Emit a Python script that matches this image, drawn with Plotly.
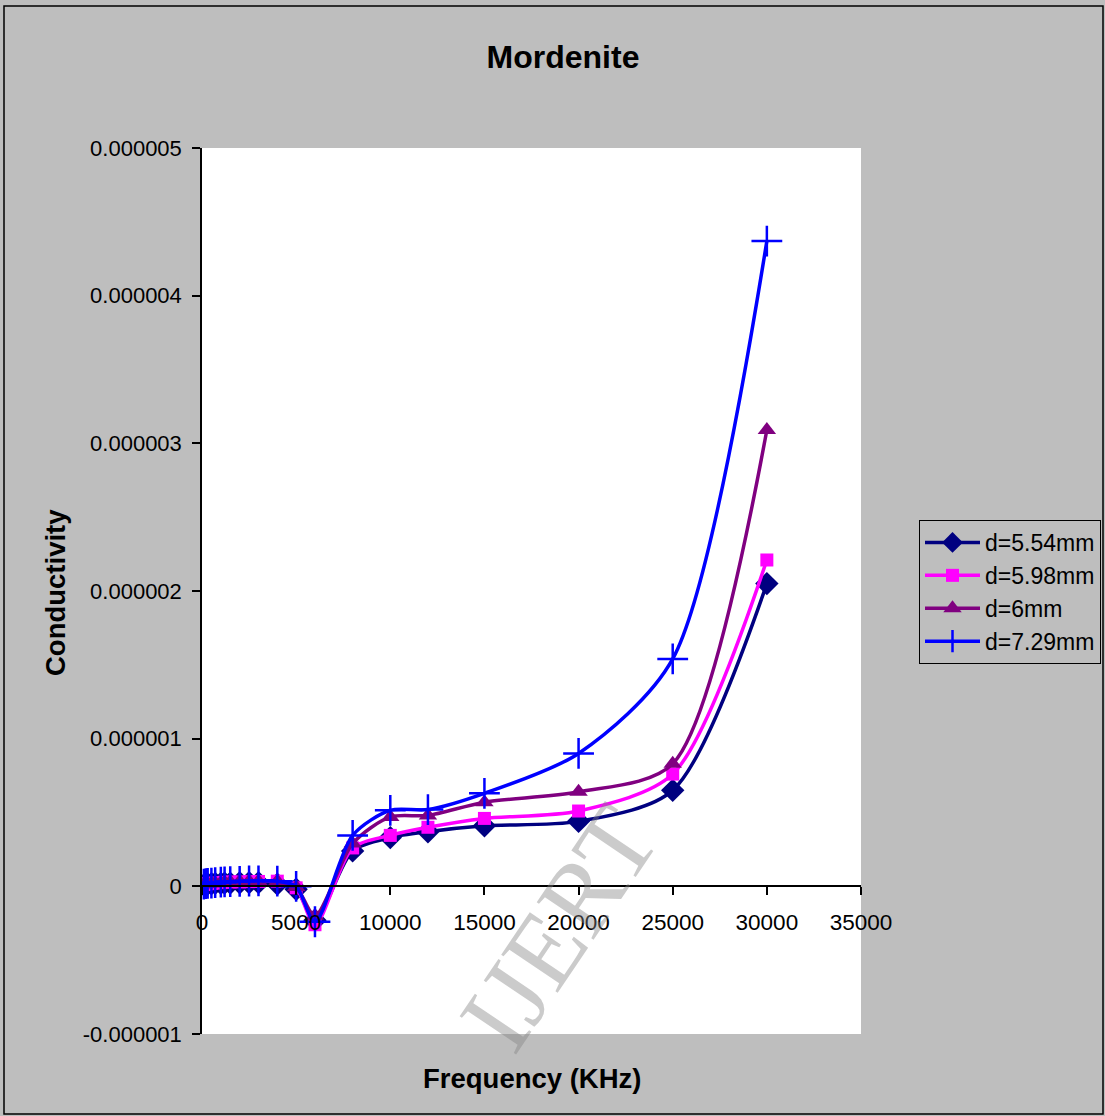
import plotly.graph_objects as go

# ---------------- data ----------------
frequency = [100, 200, 300, 500, 700, 1000, 1200, 1500, 2000, 2500, 3000, 4000, 5000,
             6000, 8000, 10000, 12000, 15000, 20000, 25000, 30000]

d_554 = [0.01e-6, 0.012e-6, 0.015e-6, 0.018e-6, 0.02e-6, 0.02e-6, 0.022e-6, 0.022e-6, 0.024e-6,
         0.025e-6, 0.025e-6, 0.015e-6, -0.02e-6, -0.23e-6, 0.24e-6, 0.33e-6, 0.37e-6, 0.41e-6,
         0.44e-6, 0.65e-6, 2.05e-6]
d_598 = [0.012e-6, 0.015e-6, 0.018e-6, 0.02e-6, 0.022e-6, 0.025e-6, 0.027e-6, 0.03e-6, 0.03e-6,
         0.032e-6, 0.033e-6, 0.035e-6, -0.01e-6, -0.26e-6, 0.26e-6, 0.345e-6, 0.40e-6, 0.46e-6,
         0.51e-6, 0.76e-6, 2.21e-6]
d_6 = [0.012e-6, 0.015e-6, 0.018e-6, 0.02e-6, 0.023e-6, 0.025e-6, 0.028e-6, 0.03e-6, 0.032e-6,
       0.034e-6, 0.035e-6, 0.035e-6, -0.005e-6, -0.20e-6, 0.29e-6, 0.47e-6, 0.48e-6, 0.57e-6,
       0.64e-6, 0.83e-6, 3.09e-6]
d_729 = [0.015e-6, 0.018e-6, 0.02e-6, 0.022e-6, 0.025e-6, 0.028e-6, 0.03e-6, 0.032e-6, 0.034e-6,
         0.036e-6, 0.037e-6, 0.035e-6, 0.0, -0.24e-6, 0.345e-6, 0.515e-6, 0.52e-6, 0.63e-6,
         0.90e-6, 1.54e-6, 4.37e-6]

series_names = ["d=5.54mm", "d=5.98mm", "d=6mm", "d=7.29mm"]
series_values = [d_554, d_598, d_6, d_729]

y_tickvals = [-1e-6, 0, 1e-6, 2e-6, 3e-6, 4e-6, 5e-6]
y_ticktext = ["-0.000001", "0", "0.000001", "0.000002", "0.000003", "0.000004", "0.000005"]
x_tickvals = [0, 5000, 10000, 15000, 20000, 25000, 30000, 35000]
x_ticktext = ["0", "5000", "10000", "15000", "20000", "25000", "30000", "35000"]

# ---------------- style ----------------
colors = ["#000080", "#FF00FF", "#800080", "#0000FF"]
symbols = ["diamond", "square", "triangle-up", "cross-thin"]
msizes = [18, 13, 16, 22]

W, H = 1105, 1116
L, R, T, B = 202, 861, 148, 1034
pw, ph = R - L, B - T
FONT = "Liberation Sans, Arial, sans-serif"
BG = "#BEBEBE"


def px_x(px):
    return (px - L) / pw


def px_y(py):
    return (B - py) / ph


fig = go.Figure()
for name, vals, c, s, ms in zip(series_names, series_values, colors, symbols, msizes):
    fig.add_trace(go.Scatter(
        x=frequency, y=vals, name=name, mode="lines+markers",
        line=dict(color=c, width=3.5, shape="spline", smoothing=0.8),
        marker=dict(symbol=s, size=ms, color=c,
                    line=dict(color=c, width=2.5 if s == "cross-thin" else 0)),
    ))

fig.update_layout(
    width=W, height=H,
    margin=dict(l=L, r=W - R, t=T, b=H - B, pad=0, autoexpand=False),
    paper_bgcolor=BG, plot_bgcolor="white",
    font=dict(family=FONT, size=22, color="black"),
    showlegend=True,
    hovermode=False,
    title=dict(text="<b>Mordenite</b>", x=563 / W, xref="container", xanchor="center",
               y=1 - 57 / H, yref="container", yanchor="middle",
               font=dict(family=FONT, size=32, color="black")),
    legend=dict(x=px_x(919), y=px_y(520), xanchor="left", yanchor="top",
                bgcolor=BG, bordercolor="black", borderwidth=1,
                font=dict(family=FONT, size=23, color="black"),
                itemwidth=55, tracegroupgap=0),
    xaxis=dict(range=[0, 35000], tickvals=x_tickvals, ticktext=x_ticktext,
               anchor="free", position=px_y(886),
               showline=True, linecolor="black", linewidth=1.5, ticks="outside",
               ticklen=8, tickwidth=1.5, tickcolor="black", showgrid=False, zeroline=False,
               ticklabelstandoff=8, tickfont=dict(size=22.5)),
    yaxis=dict(range=[-1e-6, 5e-6], tickvals=y_tickvals, ticktext=y_ticktext,
               showline=True, linecolor="black", linewidth=1.5, ticks="outside",
               ticklen=8, tickwidth=1.5, tickcolor="black", showgrid=False, zeroline=False,
               ticklabelstandoff=6, tickfont=dict(size=22)),
)

# axis titles
fig.add_annotation(text="<b>Frequency (KHz)</b>", xref="paper", yref="paper",
                   x=px_x(532), y=px_y(1078), showarrow=False,
                   font=dict(family=FONT, size=27.5, color="black"),
                   xanchor="center", yanchor="middle")
fig.add_annotation(text="<b>Conductivity</b>", xref="paper", yref="paper",
                   x=px_x(55), y=px_y(593), showarrow=False, textangle=-90,
                   font=dict(family=FONT, size=27.5, color="black"),
                   xanchor="center", yanchor="middle")

# watermark
fig.add_annotation(text="IJERT", xref="paper", yref="paper",
                   x=px_x(558), y=px_y(928), showarrow=False, textangle=-56,
                   font=dict(family="Liberation Serif, Times New Roman, serif", size=104,
                             color="rgba(130,130,130,0.42)"),
                   xanchor="center", yanchor="middle")

# outer border of chart area
fig.add_shape(type="rect", xref="paper", yref="paper",
              x0=px_x(4), x1=px_x(1103), y0=px_y(1114), y1=px_y(6),
              line=dict(color="black", width=1.5), fillcolor="rgba(0,0,0,0)", layer="below")

fig.write_html("out.html")
